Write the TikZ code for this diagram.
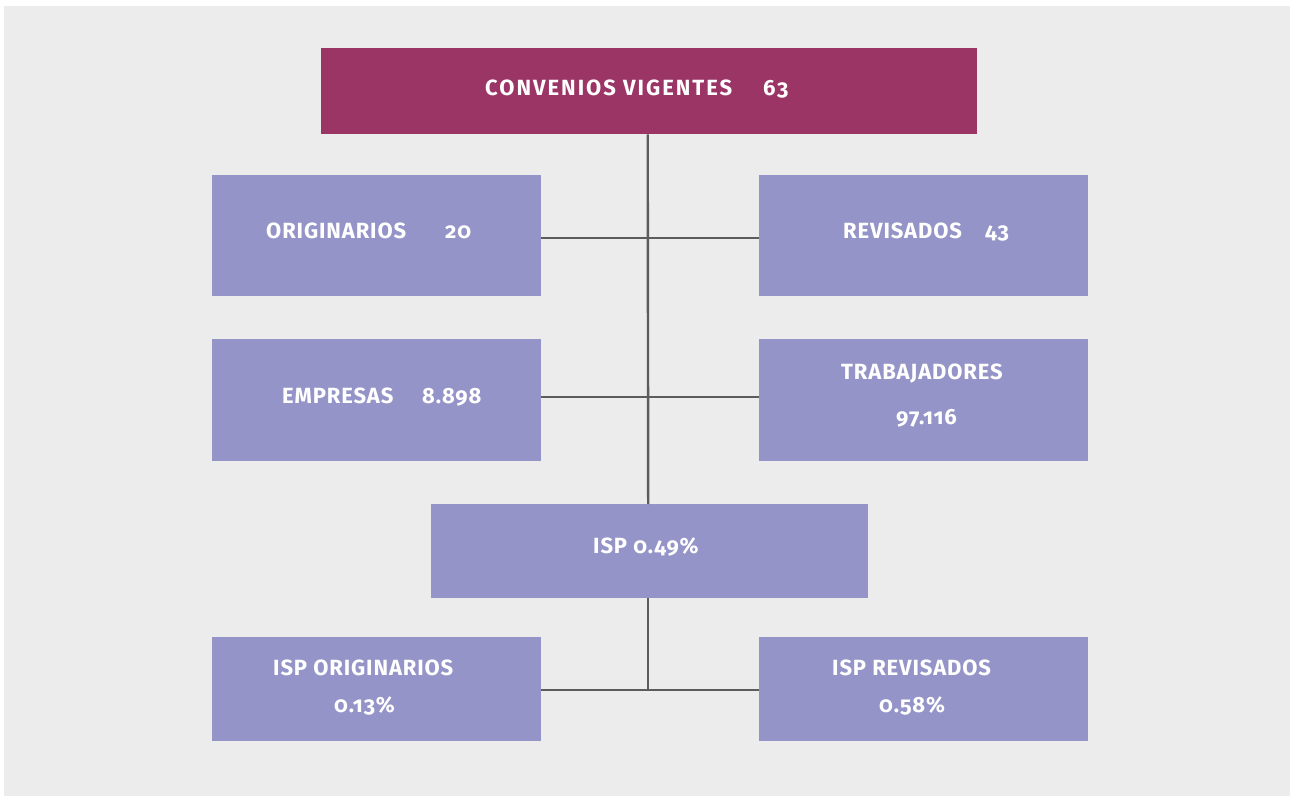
\documentclass[tikz,border=0pt]{standalone}
\usepackage{fontspec}
\setmainfont{Fira Sans}[Numbers=OldStyle, LetterSpace=4]
\newfontfamily\titlefont{Fira Sans}[Numbers=OldStyle, LetterSpace=9]
\definecolor{bggray}{HTML}{ECECEC}
\definecolor{lilac}{HTML}{9494C8}
\definecolor{plum}{HTML}{9B3566}
\definecolor{linegray}{HTML}{5C5C5C}
\tikzset{
  box/.style={fill=lilac, draw=none, inner sep=0pt, anchor=north west},
  topbox/.style={fill=plum, draw=none, inner sep=0pt, anchor=north west},
  txt/.style={text=white, font=\fontsize{22}{26}\selectfont\bfseries, inner sep=0pt, anchor=base west},
  ttxt/.style={text=white, font=\fontsize{22}{26}\selectfont\titlefont\bfseries, inner sep=0pt, anchor=base west},
  conn/.style={draw=linegray, line width=2.4pt}
}
\begin{document}
\begin{tikzpicture}[x=1pt, y=-1pt]
\useasboundingbox[fill=white] (0,0) rectangle (1290,796);
\fill[bggray] (4,6) rectangle (1290,796);
% boxes
\node[topbox, minimum width=656pt, minimum height=86pt] (top) at (321,48) {};
\node[box, minimum width=329pt, minimum height=121pt] (orig) at (212,175) {};
\node[box, minimum width=329pt, minimum height=121pt] (rev) at (759,175) {};
\node[box, minimum width=329pt, minimum height=122pt] (emp) at (212,339) {};
\node[box, minimum width=329pt, minimum height=122pt] (trab) at (759,339) {};
\node[box, minimum width=437pt, minimum height=94pt] (isp) at (431,504) {};
\node[box, minimum width=329pt, minimum height=104pt] (isporig) at (212,637) {};
\node[box, minimum width=329pt, minimum height=104pt] (isprev) at (759,637) {};
% connectors
\draw[conn] ([xshift=-1.5pt]top.south) -- ([xshift=-1.5pt]isp.north);
\draw[conn] ([yshift=-2pt]orig.east) -- ([yshift=-2pt]rev.west);
\draw[conn] ([yshift=3pt]emp.east) -- ([yshift=3pt]trab.west);
\coordinate (ispj) at ([xshift=-1.5pt,yshift=-1pt]isp.south |- isporig.east);
\draw[conn] ([xshift=-1.5pt]isp.south) -- (ispj);
\draw[conn] ([yshift=-1pt]isporig.east) -- ([yshift=-1pt]isprev.west);
% texts
\node[ttxt] (t1) at (485,95) {CONVENIOS VIGENTES};
\node[ttxt] (t1n) at (763,95) {63};
\node[txt] (t2) at (266,238) {ORIGINARIOS};
\node[txt] (t2n) at (445,238) {20};
\node[txt] (t3) at (843,238) {REVISADOS};
\node[txt] (t3n) at (985,238) {43};
\node[txt] (t4) at (282,403) {EMPRESAS};
\node[txt] (t4n) at (422,403) {8.898};
\node[txt] (t5) at (841,379) {TRABAJADORES};
\node[txt] (t5n) at (896,424) {97.116};
\node[txt] (t6) at (593,553) {ISP 0.49\%};
\node[txt] (t7) at (273,675) {ISP ORIGINARIOS};
\node[txt] (t7n) at (334,712) {0.13\%};
\node[txt] (t8) at (832,675) {ISP REVISADOS};
\node[txt] (t8n) at (879,712) {0.58\%};
\end{tikzpicture}
\end{document}
